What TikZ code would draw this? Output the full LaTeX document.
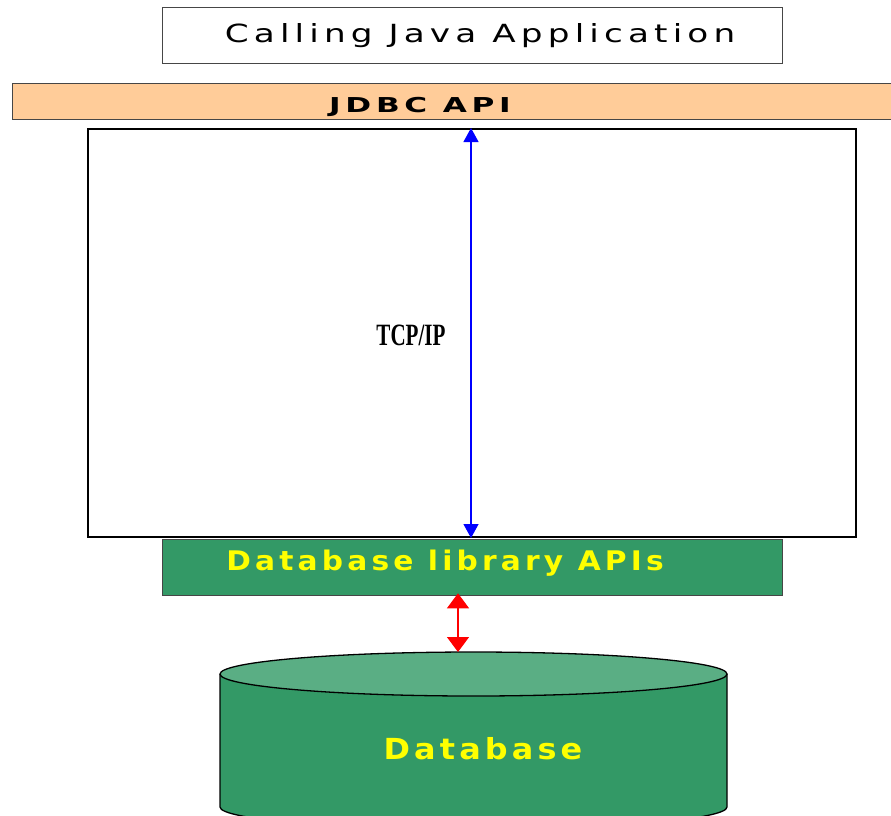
\documentclass[tikz,border=0pt]{standalone}
\usepackage{fontspec}
\setmainfont{DejaVu Sans}
\newfontfamily\tcpfont{Liberation Serif}
\newfontfamily\appfont[LetterSpace=15]{DejaVu Sans}
\newfontfamily\jdbcfont[LetterSpace=15]{DejaVu Sans}
\newfontfamily\libfont[LetterSpace=14]{DejaVu Sans}
\newfontfamily\dbfont[LetterSpace=13]{DejaVu Sans}
\usetikzlibrary{arrows.meta}
\definecolor{peach}{RGB}{255,204,153}
\definecolor{dbgreen}{RGB}{51,153,102}
\definecolor{dbtop}{RGB}{90,174,132}
\definecolor{edgegray}{RGB}{70,70,70}
\definecolor{txtyellow}{RGB}{255,255,0}
\tikzset{
  layerbox/.style={draw=edgegray, line width=1.3pt, anchor=north west, inner sep=0pt},
  greenlabel/.style={text=txtyellow, anchor=base},
  link/.style={line width=1.2pt},
}
\begin{document}
\begin{tikzpicture}[x=1pt,y=-1pt]
\useasboundingbox (0,0) rectangle (891,815);
\clip (0,0) rectangle (891,815);
% calling application
\node[layerbox, fill=white, minimum width=620pt, minimum height=56pt] (app) at (162,7) {};
\node[anchor=base, font=\fontsize{25}{25}\appfont] (apptxt) at (480,42) {\scalebox{1.37}[1]{Calling Java Application}};
% JDBC layer
\node[layerbox, fill=peach, minimum width=890pt, minimum height=36pt] (jdbc) at (12,83) {};
\node[anchor=base, font=\fontsize{20.5}{20.5}\jdbcfont\bfseries] (jdbctxt) at (420,112) {\scalebox{1.52}[1]{JDBC API}};
% network region
\node[draw=black, line width=2pt, anchor=north west, inner sep=0pt, minimum width=768pt, minimum height=408pt] (net) at (87,128) {};
\node[anchor=base, font=\fontsize{31}{31}\tcpfont\bfseries] (tcp) at (411,345) {\scalebox{0.68}[1]{TCP/IP}};
\coordinate (tcpx) at (471,0);
\draw[link, blue, {Triangle[length=14pt,width=15pt]}-{Triangle[length=14pt,width=15pt]}]
  (net.north -| tcpx) -- (net.south -| tcpx);
% database library layer
\node[layerbox, fill=dbgreen, minimum width=620pt, minimum height=56pt] (dblib) at (162,539) {};
\node[greenlabel, font=\fontsize{27}{27}\libfont\bfseries] (dblibtxt) at (445,570) {\scalebox{1.1}[1]{Database library APIs}};
% database cylinder
\path[fill=dbgreen, draw=black, line width=1.3pt]
  (220,674) -- (220,807) arc[start angle=180, end angle=0, x radius=253.5, y radius=22]
  -- (727,674);
\draw[line width=1.3pt, fill=dbtop] (473.5,674) ellipse[x radius=253.5, y radius=22];
\coordinate (dbtopc) at (458,652);
\node[greenlabel, font=\fontsize{29}{29}\dbfont\bfseries] (dbtxt) at (483,759) {\scalebox{1.1}[1]{Database}};
\coordinate (rx) at (458,0);
\draw[link, red, {Triangle[length=15pt,width=22pt]}-{Triangle[length=15pt,width=22pt]}]
  ([yshift=3pt]dblib.south -| rx) -- (dbtopc);
\end{tikzpicture}
\end{document}
